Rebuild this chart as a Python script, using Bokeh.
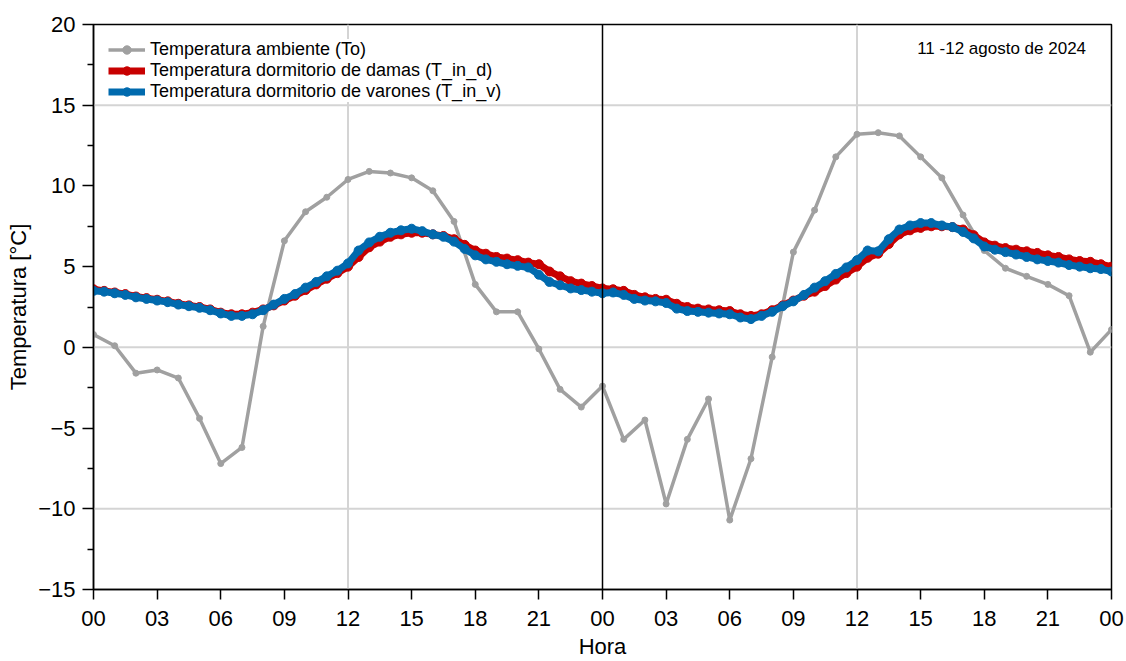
from bokeh.plotting import figure
from bokeh.models import (Range1d, FixedTicker, Span, Label, Legend, LegendItem,
                          ColumnDataSource)
from bokeh.embed import file_html
from bokeh.resources import INLINE

# Hourly outdoor temperature, 11-12 August 2024 (hours 0..48)
hours_out = list(range(0, 49))
t_out = [0.8, 0.1, -1.6, -1.4, -1.9, -4.4, -7.2, -6.2, 1.3, 6.6, 8.4, 9.3,
         10.4, 10.9, 10.8, 10.5, 9.7, 7.8, 3.9, 2.2, 2.2, -0.1, -2.6, -3.7,
         -2.4, -5.7, -4.5, -9.7, -5.7, -3.2, -10.7, -6.9, -0.6, 5.9, 8.5, 11.8,
         13.2, 13.3, 13.1, 11.8, 10.5, 8.2, 6.0, 4.9, 4.4, 3.9, 3.2, -0.3, 1.1]

# Half-hourly indoor readings (hours 0, 0.5, ..., 48)
hours_in = [i * 0.5 for i in range(97)]
t_in_d = [3.60, 3.50, 3.40, 3.30, 3.15, 3.05, 2.95, 2.85, 2.70, 2.60,
          2.50, 2.35, 2.15, 2.05, 2.05, 2.15, 2.35, 2.60, 2.90, 3.20,
          3.55, 3.90, 4.25, 4.60, 5.00, 5.60, 6.20, 6.55, 6.85, 7.00,
          7.10, 7.10, 7.00, 6.90, 6.70, 6.35, 6.00, 5.80, 5.60, 5.50,
          5.40, 5.25, 5.15, 4.70, 4.40, 4.10, 3.95, 3.80, 3.65, 3.60,
          3.50, 3.25, 3.10, 3.00, 2.95, 2.70, 2.50, 2.40, 2.35, 2.30,
          2.25, 2.05, 1.95, 2.05, 2.30, 2.60, 2.90, 3.20, 3.45, 3.80,
          4.20, 4.60, 5.00, 5.55, 5.80, 6.40, 7.00, 7.25, 7.40, 7.50,
          7.50, 7.45, 7.30, 6.95, 6.50, 6.30, 6.15, 6.05, 5.95, 5.85,
          5.70, 5.60, 5.45, 5.35, 5.30, 5.15, 5.00]
t_in_v = [3.50, 3.45, 3.35, 3.25, 3.10, 3.00, 2.90, 2.80, 2.65, 2.55,
          2.45, 2.30, 2.10, 1.95, 1.95, 2.05, 2.30, 2.65, 3.00, 3.30,
          3.70, 4.05, 4.40, 4.75, 5.20, 6.00, 6.50, 6.85, 7.10, 7.25,
          7.35, 7.20, 7.00, 6.85, 6.55, 6.10, 5.70, 5.45, 5.30, 5.15,
          5.05, 4.95, 4.50, 4.05, 3.85, 3.65, 3.55, 3.45, 3.35, 3.40,
          3.25, 3.00, 2.90, 2.85, 2.75, 2.40, 2.25, 2.20, 2.15, 2.10,
          2.05, 1.85, 1.75, 1.95, 2.20, 2.55, 2.85, 3.25, 3.70, 4.10,
          4.55, 4.95, 5.40, 6.00, 5.95, 6.70, 7.30, 7.55, 7.70, 7.70,
          7.55, 7.45, 7.15, 6.75, 6.25, 6.05, 5.90, 5.75, 5.60, 5.45,
          5.35, 5.25, 5.10, 5.00, 4.90, 4.85, 4.70]

x_ticks = list(range(0, 49, 3))
x_tick_labels = ["00", "03", "06", "09", "12", "15", "18", "21", "00",
                 "03", "06", "09", "12", "15", "18", "21", "00"]
y_ticks = [-15, -10, -5, 0, 5, 10, 15, 20]
y_tick_labels = ["\u221215", "\u221210", "\u22125", "0", "5", "10", "15", "20"]
grid_hours = [12, 36]
grid_temps = [15, 0, -10]
midnight = 24

series_names = ["Temperatura ambiente (To)",
                "Temperatura dormitorio de damas (T_in_d)",
                "Temperatura dormitorio de varones (T_in_v)"]
date_text = "11 -12 agosto de 2024"
x_title = "Hora"
y_title = "Temperatura [°C]"

FONT = "Liberation Sans"
GRAY = "#A0A0A0"
RED = "#C80000"
BLUE = "#006AAE"

p = figure(width=1126, height=661, x_range=Range1d(0, 48), y_range=Range1d(-15, 20),
           output_backend="svg", toolbar_location=None,
           min_border_left=93, min_border_right=15, min_border_top=24,
           min_border_bottom=72)
p.xgrid.visible = False
p.ygrid.visible = False
p.background_fill_color = "white"
p.border_fill_color = "white"
p.outline_line_color = "black"
p.outline_line_width = 1.5

for h in grid_hours:
    p.add_layout(Span(location=h, dimension="height", line_color="#D4D4D4",
                      line_width=2, level="underlay"))
for t in grid_temps:
    p.add_layout(Span(location=t, dimension="width", line_color="#D4D4D4",
                      line_width=2, level="underlay"))

src_out = ColumnDataSource(dict(x=hours_out, y=t_out))
src_in = ColumnDataSource(dict(x=hours_in, d=t_in_d, v=t_in_v))

l_out = p.line("x", "y", source=src_out, line_color=GRAY, line_width=3.5)
s_out = p.scatter("x", "y", source=src_out, size=6, fill_color=GRAY, line_color=GRAY)

l_d = p.line("x", "d", source=src_in, line_color=RED, line_width=7)
s_d = p.scatter("x", "d", source=src_in, size=9, fill_color=RED, line_color=RED)

l_v = p.line("x", "v", source=src_in, line_color=BLUE, line_width=7)
s_v = p.scatter("x", "v", source=src_in, size=9, fill_color=BLUE, line_color=BLUE)

p.add_layout(Span(location=midnight, dimension="height", line_color="black",
                  line_width=1.5))

legend = Legend(items=[LegendItem(label=series_names[0], renderers=[l_out, s_out]),
                       LegendItem(label=series_names[1], renderers=[l_d, s_d]),
                       LegendItem(label=series_names[2], renderers=[l_v, s_v])],
                location="top_left")
legend.label_text_font = FONT
legend.label_text_font_size = "18px"
legend.label_text_color = "black"
legend.glyph_width = 37
legend.glyph_height = 21
legend.label_height = 21
legend.spacing = 0
legend.padding = 8
legend.margin = 15
legend.label_standoff = 5
legend.border_line_color = None
legend.background_fill_color = "white"
legend.background_fill_alpha = 1.0
p.add_layout(legend)

p.add_layout(Label(x=46.8, y=18.5, text=date_text, text_font=FONT,
                   text_font_size="17px", text_align="right", text_baseline="middle",
                   text_color="black"))

xa = p.xaxis[0]
xa.ticker = FixedTicker(ticks=x_ticks)
xa.major_label_overrides = {t: lab for t, lab in zip(x_ticks, x_tick_labels)}
xa.axis_label = x_title
ya = p.yaxis[0]
ya.ticker = FixedTicker(ticks=y_ticks, minor_ticks=[v + 2.5 for v in y_ticks[:-1]])
ya.major_label_overrides = {t: lab for t, lab in zip(y_ticks, y_tick_labels)}
ya.axis_label = y_title

for ax in (xa, ya):
    ax.axis_line_color = "black"
    ax.axis_line_width = 1.5
    ax.major_tick_line_color = "black"
    ax.major_tick_line_width = 1.5
    ax.minor_tick_line_color = "black"
    ax.minor_tick_line_width = 1.5
    ax.major_tick_in = 0
    ax.minor_tick_in = 0
    ax.major_label_text_font = FONT
    ax.major_label_text_font_size = "22px"
    ax.major_label_text_color = "black"
    ax.axis_label_text_font = FONT
    ax.axis_label_text_font_size = "22px"
    ax.axis_label_text_font_style = "normal"
    ax.axis_label_text_color = "black"

xa.major_tick_out = 10
xa.minor_tick_out = 0
xa.major_label_standoff = 11
xa.axis_label_standoff = 5
ya.major_tick_out = 11
ya.minor_tick_out = 6
ya.major_label_standoff = 7
ya.axis_label_standoff = 4

open("out.html", "w").write(file_html(p, INLINE))
